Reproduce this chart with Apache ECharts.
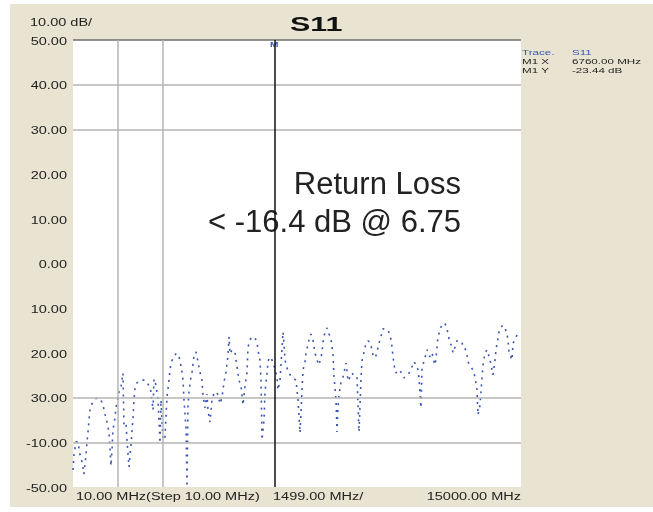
<!DOCTYPE html>
<html>
<head>
<meta charset="utf-8">
<script src="https://cdn.jsdelivr.net/npm/echarts@6/dist/echarts.min.js"></script>
<style>
  html, body { margin: 0; padding: 0; background: #fff; }
  #chart { width: 653px; height: 512px; }
</style>
</head>
<body>
<div id="chart"></div>
<script>
// S11 trace (MHz, dB)
const freqMHz = [
  10, 43, 110, 177, 244, 311, 378, 445, 478, 512, 545, 579, 646, 746, 847, 947, 1014, 1081, 1148, 1215,
  1248, 1281, 1315, 1348, 1415, 1449, 1516, 1549, 1616, 1650, 1683, 1716, 1783, 1817, 1884, 1951, 2018, 2051, 2085, 2151,
  2218, 2319, 2419, 2486, 2553, 2620, 2687, 2720, 2787, 2854, 2921, 2954, 2988, 3021, 3088, 3155, 3222, 3256, 3289, 3356,
  3456, 3523, 3590, 3657, 3691, 3724, 3791, 3824, 3858, 3891, 3958, 3992, 4059, 4126, 4193, 4259, 4326, 4360, 4427, 4494,
  4527, 4594, 4661, 4728, 4795, 4862, 4929, 4996, 5029, 5062, 5129, 5196, 5230, 5263, 5330, 5431, 5497, 5564, 5631, 5698,
  5765, 5832, 5866, 5932, 5999, 6033, 6100, 6167, 6200, 6267, 6300, 6334, 6401, 6434, 6501, 6535, 6602, 6669, 6702, 6760,
  6836, 6869, 6936, 6970, 7003, 7037, 7070, 7104, 7170, 7271, 7371, 7472, 7505, 7539, 7605, 7672, 7706, 7773, 7806, 7840,
  7907, 7973, 8040, 8107, 8174, 8241, 8342, 8375, 8442, 8509, 8542, 8643, 8676, 8710, 8743, 8810, 8843, 8877, 8910, 8977,
  9044, 9145, 9178, 9212, 9278, 9345, 9379, 9446, 9513, 9580, 9647, 9680, 9747, 9814, 9881, 9948, 10015, 10048, 10115, 10182,
  10215, 10282, 10349, 10383, 10483, 10550, 10617, 10650, 10684, 10751, 10818, 10885, 10951, 11018, 11085, 11186, 11286, 11353, 11386, 11453,
  11520, 11554, 11587, 11654, 11688, 11788, 11855, 11888, 11955, 12022, 12056, 12123, 12156, 12189, 12223, 12290, 12357, 12390, 12457, 12524,
  12558, 12624, 12691, 12725, 12792, 12859, 12959, 13026, 13059, 13126, 13193, 13227, 13294, 13394, 13461, 13528, 13561, 13628, 13695, 13729,
  13796, 13862, 13896, 13963, 14030, 14063, 14130, 14164, 14231, 14264, 14331, 14398, 14465, 14532, 14565, 14599, 14699, 14732, 14799, 14866,
  14967
];
const s11dB = [
  -46.2, -42.8, -39.9, -39.9, -42.8, -44.4, -47.1, -42.8, -39.9, -37.7, -35.0, -32.8, -31.4, -30.3, -30.1, -30.5, -31.7, -33.7, -35.5, -37.7,
  -41.3, -45.3, -41.7, -37.2, -34.6, -32.1, -30.1, -28.7, -27.6, -27.4, -24.5, -36.1, -35.7, -39.5, -45.5, -40.6, -34.6, -30.5, -27.8, -26.7,
  -26.3, -26.1, -26.1, -26.5, -27.4, -28.7, -32.8, -25.8, -27.2, -30.5, -40.2, -30.5, -30.1, -39.5, -38.8, -29.9, -26.1, -23.8, -22.3, -21.1,
  -20.2, -20.2, -21.6, -24.3, -26.1, -30.5, -36.8, -50.0, -31.7, -28.7, -25.4, -24.3, -20.5, -19.8, -22.0, -24.3, -26.1, -29.4, -32.3, -29.2,
  -32.8, -35.5, -30.5, -29.0, -28.7, -29.4, -31.4, -29.9, -28.3, -26.5, -24.3, -20.5, -16.4, -20.2, -19.3, -20.0, -20.0, -26.1, -27.4, -31.7,
  -27.4, -24.5, -18.7, -17.1, -16.4, -16.0, -16.7, -17.6, -19.3, -21.6, -26.1, -39.5, -35.0, -28.7, -24.7, -21.8, -20.9, -21.6, -21.6, -23.4,
  -25.4, -28.3, -26.1, -26.1, -19.1, -15.3, -18.0, -21.6, -23.4, -24.9, -25.6, -26.1, -28.3, -30.5, -37.9, -28.3, -23.8, -22.0, -20.0, -19.1,
  -17.1, -15.8, -17.1, -20.0, -21.6, -22.7, -20.0, -17.6, -15.3, -14.4, -15.1, -17.1, -18.7, -20.5, -25.2, -30.5, -37.7, -32.3, -29.4, -26.5,
  -25.4, -22.3, -24.0, -26.3, -26.5, -24.5, -24.9, -25.4, -25.4, -37.7, -25.6, -21.8, -19.8, -17.8, -17.3, -17.6, -19.3, -20.5, -21.1, -20.0,
  -18.7, -17.1, -15.5, -14.6, -14.9, -14.9, -16.0, -17.1, -18.7, -22.7, -24.5, -23.8, -23.4, -24.5, -25.6, -24.9, -24.3, -23.1, -22.0, -22.3,
  -23.1, -23.8, -25.6, -32.3, -23.4, -21.1, -19.3, -19.8, -20.9, -20.0, -21.1, -22.7, -21.1, -18.7, -16.4, -14.9, -13.5, -13.3, -13.5, -14.4,
  -16.0, -17.6, -18.7, -20.0, -18.7, -17.3, -17.6, -17.6, -18.7, -18.9, -20.5, -22.0, -22.9, -23.8, -25.4, -28.3, -33.9, -31.7, -25.6, -22.7,
  -20.0, -19.3, -20.0, -21.6, -23.8, -24.9, -21.6, -19.3, -16.7, -15.3, -14.2, -13.8, -14.4, -15.8, -17.1, -19.8, -21.6, -17.8, -17.1, -16.0,
  -15.8
];

// y ticks and the labels as printed on the screen, bottom to top
const yTicks = [-50, -40, -30, -20, -10, 0, 10, 20, 30, 40, 50];
const yTickLabels = ['-50.00', '-10.00', '30.00', '20.00', '10.00', '0.00', '10.00', '20.00', '30.00', '40.00', '50.00'];
const xTickLabels = ['10.00 MHz(Step 10.00 MHz)', '1499.00 MHz/', '15000.00 MHz'];
const gridDb = [40, 30, -30, -40];
const gridMHz = [1509, 3008];
const markerMHz = 6760;
const markerInfo = [['Trace.', 'S11'], ['M1 X', '6760.00 MHz'], ['M1 Y', '-23.44 dB']];

const chart = echarts.init(document.getElementById('chart'));

const font = 'Liberation Sans, Arial, sans-serif';
const traceColor = '#3a55b3';
const stretch = 1.45; // the analyser screenshot is stretched sideways

// small helper for the stretched screen texts
function screenText(text, x, y, size, color, align, bold) {
  return {
    type: 'text', x: x, y: y, scaleX: stretch,
    style: {
      text: text, fill: color, font: (bold ? 'bold ' : '') + size + 'px ' + font,
      align: align, verticalAlign: 'middle', textAlign: align, textVerticalAlign: 'middle'
    }
  };
}

var gridLines = [{ yAxis: 50, lineStyle: { color: '#6e6e6e', width: 1.5, type: 'solid' } }];
gridDb.forEach(v => gridLines.push({ yAxis: v }));
gridMHz.forEach(v => gridLines.push({ xAxis: v }));

var baseGraphics = [
  // thin white frame round the screenshot
  { type: 'rect', left: 0, top: 0, shape: { width: 10, height: 512 }, style: { fill: '#fff' } },
  { type: 'rect', left: 0, top: 0, shape: { width: 653, height: 4 }, style: { fill: '#fff' } },
  { type: 'rect', left: 0, top: 507, shape: { width: 653, height: 5 }, style: { fill: '#fff' } },
  screenText('S11', 290, 25, 21, '#111', 'left', true),
  screenText('10.00 dB/', 30, 23, 10, '#222', 'left'),
  screenText('M', 270, 45, 7, traceColor, 'left', true),
  screenText(xTickLabels[0], 76, 497, 10, '#222', 'left'),
  screenText(xTickLabels[1], 273, 497, 10, '#222', 'left'),
  screenText(xTickLabels[2], 521, 497, 10, '#222', 'right'),
  { type: 'text', right: 192, top: 170, style: { text: 'Return Loss', fill: '#222', font: '31px ' + font } },
  { type: 'text', right: 192, top: 208, style: { text: '< -16.4 dB @ 6.75', fill: '#222', font: '31px ' + font } }
];
markerInfo.forEach((row, i) => {
  var c = i === 0 ? traceColor : '#222';
  baseGraphics.push(screenText(row[0], 522, 53 + i * 9, 8, c, 'left'));
  baseGraphics.push(screenText(row[1], 572, 53 + i * 9, 8, c, 'left'));
});

var option = {
  backgroundColor: '#e8e4d1',
  animation: false,
  grid: {
    left: 73, top: 40, width: 448, height: 447,
    show: true, backgroundColor: '#fff', borderWidth: 0
  },
  xAxis: {
    type: 'value', min: 10, max: 15000,
    axisLine: { show: false }, axisTick: { show: false },
    axisLabel: { show: false }, splitLine: { show: false }
  },
  yAxis: {
    type: 'value', min: -50, max: 50, interval: 10,
    axisLine: { show: false }, axisTick: { show: false }, splitLine: { show: false },
    axisLabel: { show: false }
  },
  graphic: baseGraphics,
  series: [
    {
      name: 'grid',
      type: 'line',
      data: [],
      z: 1,
      markLine: {
        silent: true,
        symbol: 'none',
        label: { show: false },
        lineStyle: { color: '#b4b4b4', width: 1.5, type: 'solid' },
        data: gridLines
      }
    },
    {
      name: 'S11',
      type: 'line',
      z: 3,
      showSymbol: false,
      data: freqMHz.map((f, i) => [f, s11dB[i]]),
      lineStyle: { color: traceColor, width: 1.6, type: [2, 5] },
      markLine: {
        silent: true,
        symbol: 'none',
        label: { show: false },
        lineStyle: { color: '#111', width: 1.5, type: 'solid' },
        data: [{ xAxis: markerMHz }]
      }
    }
  ]
};
chart.setOption(option);

// y labels, placed on the ticks through the axis scale
var yLabelGraphics = yTicks.map((v, i) =>
  screenText(yTickLabels[i], 67, chart.convertToPixel({ yAxisIndex: 0 }, v) + 2, 10, '#222', 'right')
);
chart.setOption({ graphic: baseGraphics.concat(yLabelGraphics) });
</script>
</body>
</html>
